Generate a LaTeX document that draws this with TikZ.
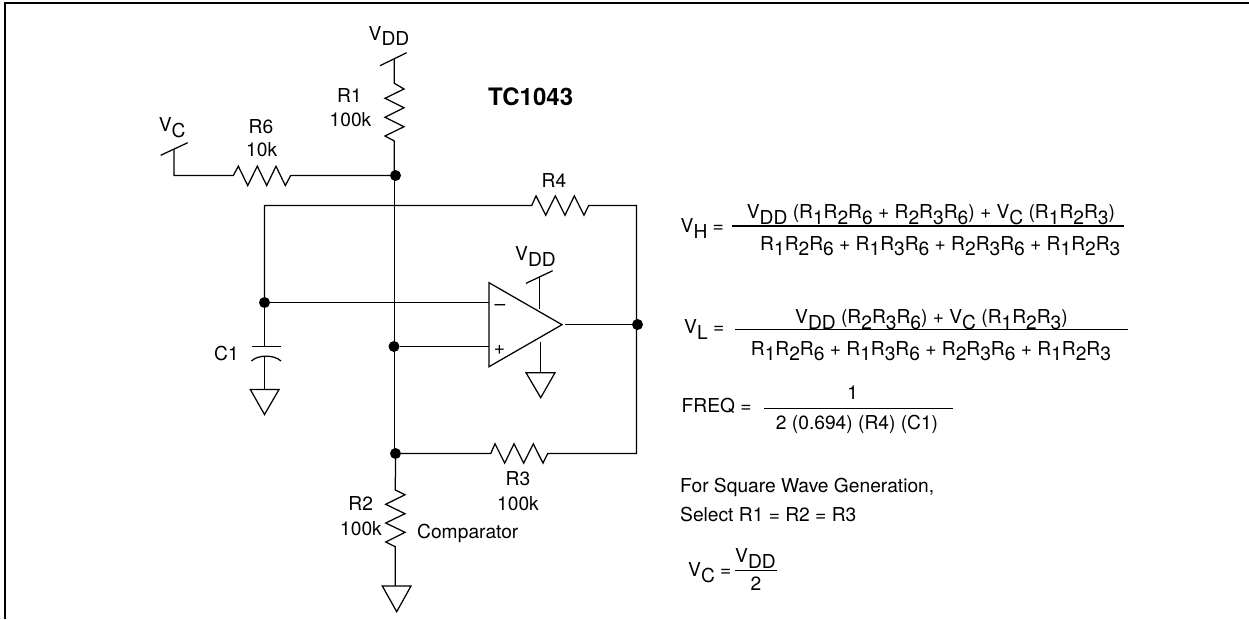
\documentclass[tikz,border=0pt]{standalone}
\usepackage{fontspec}
\setmainfont{TeX Gyre Heros}
\usepackage{xcolor}
\usepackage{tikz}
\newcommand{\lowr}[1]{\raisebox{-.3em}{#1}}
\tikzset{
    wire/.style={line width=1.25pt},
    dot/.style={circle,fill=black,inner sep=0pt,minimum size=11pt},
    txt/.style={anchor=base west,inner sep=0pt,font=\fontsize{19.2}{19.2}\selectfont},
    mid/.style={anchor=base,inner sep=0pt,font=\fontsize{19.2}{19.2}\selectfont}
}
\begin{document}
\begin{tikzpicture}[x=1pt,y=-1pt]
    \useasboundingbox (0,0) rectangle (1249,619);

    % Define the outer frame
    \draw[line width=2pt] (5,619) -- (5,2.8) -- (1249,2.8);

    % Define the junctions
    \node[dot] (jvc) at (395.5,175.5) {};
    \node[dot] (jc) at (264.5,302.5) {};
    \node[dot] (jplus) at (394,346.5) {};
    \node[dot] (jout) at (637.5,324.5) {};
    \node[dot] (jr) at (395.5,453.5) {};

    % Define the top supply and R1
    \coordinate (vddtop) at (394.3,59);
    \draw[wire] (380,65.7) -- (406.7,52.7);
    \draw[wire] (vddtop) -- (394.3,83.3) -- ++(9.7,5.7) -- ++(-19,9.3) -- ++(19,9.4) -- ++(-19,9.6) -- ++(19,9.4) -- ++(-19,9.3) -- (394.3,141) -- (394.3,175.5);
    \draw[wire] (394.3,175.5) -- (394.3,453.5);

    % Define the R6 branch
    \coordinate (vctop) at (174,149);
    \draw[wire] (160.7,155.3) -- (187.7,142.7);
    \draw[wire] (vctop) -- (174,175.5) -- (233.3,175.5) -- ++(5,-9.3) -- ++(9.4,19.3) -- ++(9.6,-19.3) -- ++(9.4,19.3) -- ++(9.3,-19.3) -- ++(9.3,19.3) -- (290.7,175.5) -- (jvc);

    % Define the feedback loop with R4
    \draw[wire] (jc) -- (264.5,205.5) -- (531.7,205.5) -- ++(4.3,-9.6) -- ++(9.7,19.3) -- ++(9.6,-19.3) -- ++(9.7,19.3) -- ++(9.3,-19.3) -- ++(9.7,19.3) -- (588.7,205.5) -- (636.5,205.5) -- (636.5,453.5) -- (547.7,453.5) -- ++(-4.7,9.6) -- ++(-9.7,-19.3) -- ++(-9.6,19.3) -- ++(-9.7,-19.3) -- ++(-9.3,19.3) -- ++(-9.7,-19.3) -- (490.7,453.5) -- (jr);

    % Define the comparator
    \coordinate (opa) at (489,282.7);
    \coordinate (opb) at (489,366.7);
    \coordinate (opc) at (562,324.7);
    \draw[wire,line join=miter] (opa) -- (opb) -- (opc) -- cycle;
    \draw[wire] (jc) -- (489,302.5);
    \draw[wire] (jplus) -- (489,346.5);
    \coordinate (opout) at (565.3,324.5);
    \draw[wire] (opout) -- (jout);
    \node[mid] (opminus) at (500,310) {–};
    \node[mid] (opplus) at (499.5,354) {+};

    % Define the comparator supply and ground
    \draw[wire] (526,283.3) -- (552.7,270.7);
    \draw[wire] (539.7,276.7) -- (539.7,309.3);
    \draw[wire] (540.7,342.3) -- (540.7,372.7);
    \draw[wire] (526,372.7) -- (555,372.7) -- (540.7,397.7) -- cycle;

    % Define C1 and its ground
    \draw[wire] (jc) -- (264.5,346.7);
    \draw[wire] (251.7,346.7) -- (280.7,346.7);
    \draw[wire] (251.5,361) .. controls (258,354.5) and (274,354.5) .. (281,361);
    \draw[wire] (264.5,356) -- (264.5,389.5);
    \draw[wire] (250.3,389.5) -- (279,389.5) -- (264.5,414.5) -- cycle;

    % Define R2 and its ground
    \draw[wire] (jr) -- (395.3,490) -- ++(9.7,4.7) -- ++(-19.3,9.6) -- ++(19.3,9.4) -- ++(-19.3,9.3) -- ++(19.3,9.3) -- ++(-19.3,9.7) -- (395.3,546.7) -- (395.3,586);
    \draw[wire] (382.3,586) -- (411,586) -- (396.7,611.7) -- cycle;

    % Add labels for the parts
    \node[txt] (vddlab) at (368.5,40) {V\lowr{DD}};
    \node[mid] (r1lab) at (349.5,102.7) {R1};
    \node[mid] (r1val) at (350.5,126.7) {100k};
    \node[txt] (vclab) at (158.7,131.7) {V\lowr{C}};
    \node[mid] (r6lab) at (261,133.3) {R6};
    \node[mid] (r6val) at (261.7,156.7) {10k};
    \node[mid] (r4lab) at (554,187.7) {R4};
    \node[txt,font=\fontsize{24}{24}\selectfont\bfseries] (tclab) at (488,105.7) {TC1043};
    \node[txt] (c1lab) at (214,360.7) {C1};
    \node[txt] (vddop) at (515,260.7) {V\lowr{DD}};
    \node[mid] (r3lab) at (518,485.7) {R3};
    \node[mid] (r3val) at (518,510) {100k};
    \node[mid] (r2lab) at (360.7,510.7) {R2};
    \node[mid] (r2val) at (361,535) {100k};
    \node[txt] (cmplab) at (417,538.3) {Comparator};

    % Add the equation for V_H
    \node[txt] (vhlab) at (680.5,232.3) {V\lowr{H} =};
    \node[txt] (vhnum) at (746.7,218.3) {V\lowr{DD} (R\lowr{1}R\lowr{2}R\lowr{6} + R\lowr{2}R\lowr{3}R\lowr{6}) + V\lowr{C} (R\lowr{1}R\lowr{2}R\lowr{3})};
    \draw[wire] (731.7,226) -- (1124.3,226);
    \node[txt] (vhden) at (760,250) {R\lowr{1}R\lowr{2}R\lowr{6} + R\lowr{1}R\lowr{3}R\lowr{6} + R\lowr{2}R\lowr{3}R\lowr{6} + R\lowr{1}R\lowr{2}R\lowr{3}};

    % Add the equation for V_L
    \node[txt] (vllab) at (684,333.3) {V\lowr{L} =};
    \node[txt] (vlnum) at (795,323.3) {V\lowr{DD} (R\lowr{2}R\lowr{3}R\lowr{6}) + V\lowr{C} (R\lowr{1}R\lowr{2}R\lowr{3})};
    \draw[wire] (735,329.3) -- (1127.7,329.3);
    \node[txt] (vlden) at (750.7,355) {R\lowr{1}R\lowr{2}R\lowr{6} + R\lowr{1}R\lowr{3}R\lowr{6} + R\lowr{2}R\lowr{3}R\lowr{6} + R\lowr{1}R\lowr{2}R\lowr{3}};

    % Add the equation for the frequency
    \node[txt] (freqlab) at (681.5,412.7) {FREQ =};
    \node[mid] (freqnum) at (852.7,399.3) {1};
    \draw[wire] (764,408.3) -- (953.3,408.3);
    \node[mid] (freqden) at (857,429.3) {2 (0.694) (R4) (C1)};

    % Add the square wave note
    \node[txt] (noteone) at (680,492.3) {For Square Wave Generation,};
    \node[txt] (notetwo) at (680,521) {Select R1 = R2 = R3};
    \node[txt] (vcl) at (688,576.7) {V\lowr{C} =};
    \node[txt] (vcnum) at (735,562.7) {V\lowr{DD}};
    \draw[wire] (735,570.7) -- (777.3,570.7);
    \node[mid] (vcden) at (756,590.7) {2};
\end{tikzpicture}
\end{document}
